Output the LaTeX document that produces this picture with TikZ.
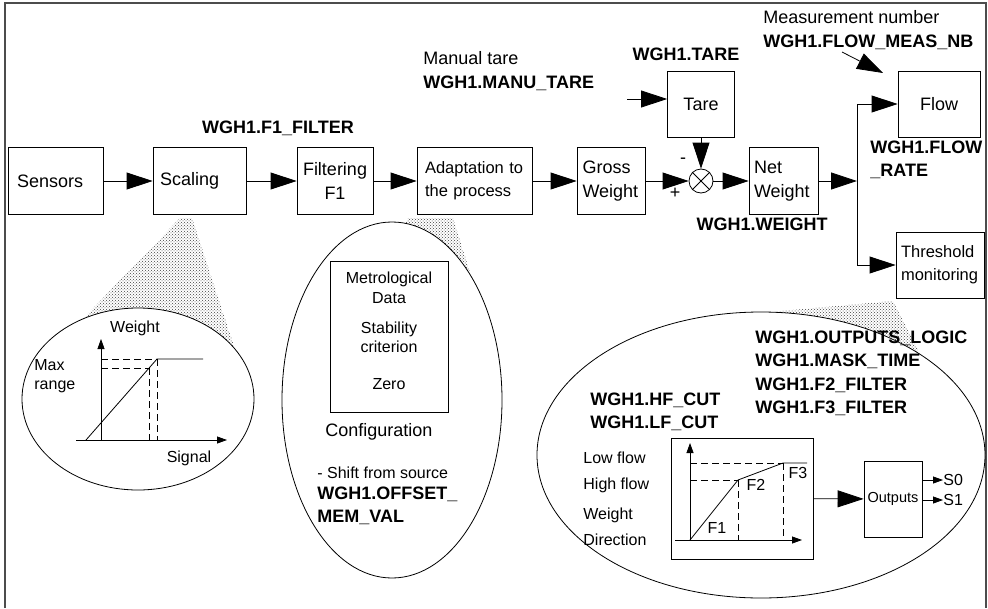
\documentclass[tikz,border=0pt]{standalone}
\usepackage{fontspec}
\setmainfont{Liberation Sans}
\usepackage{tikz}
\usetikzlibrary{arrows.meta,patterns}
\tikzstyle{arrow} = [draw, -{Triangle[length=26pt,width=17pt]}, thick]
\tikzstyle{tinyArrow} = [draw, -{Triangle[length=10pt,width=7pt]}, thick]
\tikzstyle{line} = [draw, thick]
\tikzstyle{dashLine} = [draw, thick, dash pattern=on 7pt off 4pt]
\tikzstyle{block} = [draw, rectangle, thick, minimum height=67pt, inner xsep=6pt,
    align=left, font=\fontsize{18}{23.5}\selectfont]
\tikzstyle{plainBlock} = [draw, rectangle, thick]
\tikzstyle{sumBlock} = [draw, circle, thick, minimum size=24pt, inner sep=0pt]
\tikzstyle{zoomArea} = [draw, thick, fill=white]
\tikzstyle{zoomShade} = [pattern=crosshatch dots, pattern color=black!75]
\tikzstyle{varLabel} = [font=\bfseries\fontsize{18}{23.5}\selectfont, align=left, inner sep=0pt]
\tikzstyle{textLabel} = [font=\fontsize{18}{23.5}\selectfont, align=left, inner sep=0pt]
\tikzstyle{smallLabel} = [font=\fontsize{16}{19.5}\selectfont, align=left, inner sep=0pt]

\begin{document}
\begin{tikzpicture}[x=1pt, y=1pt, node distance=144pt, auto, thick]
      \useasboundingbox (0,0) rectangle (988,-608);
      % frame
      \path [draw, line width=1.3pt, black!70] (5,-608) -- (5,-3) -- (986,-3) -- (986,-608);

      % Place nodes
      \node [block, text width=77pt, inner xsep=9pt] (sensors) at (55.5,-181) {Sensors};
      \node [block, text width=79pt, inner xsep=7pt, right of=sensors] (scaling) {Scaling};
      \node [block, text width=64pt, align=center, right of=scaling, node distance=135.5pt] (filter) {Filtering\\F1};
      \node [block, text width=99pt, inner xsep=8pt, font=\fontsize{16.5}{23}\selectfont,
          right of=filter, node distance=139.5pt] (adapt) {Adaptation to\\the process};
      \node [block, text width=57pt, inner xsep=5.5pt, right of=adapt, node distance=136.5pt] (gross) {Gross\\Weight};
      \node [sumBlock, right of=gross, node distance=90pt] (sum) {};
      \node [block, text width=59pt, inner xsep=5pt, right of=sum, node distance=82.5pt] (net) {Net\\Weight};
      \node [block, text width=55pt, align=center, minimum height=66pt, above of=sum, node distance=77pt] (tare) {Tare};
      \node [block, text width=70pt, align=center, minimum height=66pt, right of=net, node distance=155.5pt, yshift=77pt] (flow) {Flow};
      \node [block, text width=78pt, inner xsep=5pt, minimum height=66pt, font=\fontsize{16.5}{23}\selectfont,
          right of=net, node distance=156.5pt, yshift=-84pt] (threshold) {Threshold\\monitoring};

      \coordinate (branch) at (857,-181);
      \coordinate (tareIn) at (627,-99);
      \coordinate (measFrom) at (842,-52);
      \coordinate (measTo) at (883,-73);

      \path [arrow] (sensors) -- (scaling);
      \path [arrow] (scaling) -- (filter);
      \path [arrow] (filter) -- (adapt);
      \path [arrow] (adapt) -- (gross);
      \path [arrow] (gross) -- (sum);
      \path [arrow] (tare) -- (sum);
      \path [arrow] (sum) -- (net);
      \path [line] (sum.45) -- (sum.225) (sum.135) -- (sum.315);
      \path [arrow] (net) -- (branch);
      \path [arrow] (branch) |- (flow);
      \path [arrow] (branch) |- (threshold);
      \path [arrow] (tareIn) -- (tareIn -| tare.west);
      \path [arrow] (measFrom) -- (measTo);

      % variable names
      \node [varLabel, anchor=north] (f1Var) at (278,-120.5) {WGH1.F1\_FILTER};
      \node [textLabel, anchor=north west] (manuVar) at (423,-51.5) {Manual tare\\\textbf{WGH1.MANU\_TARE}};
      \node [varLabel, anchor=north] (tareVar) at (686,-47.5) {WGH1.TARE};
      \node [textLabel, anchor=north west] (measVar) at (763,-10.5) {Measurement number\\\textbf{WGH1.FLOW\_MEAS\_NB}};
      \node [varLabel, anchor=north west] (rateVar) at (870,-140.5) {WGH1.FLOW\\\_RATE};
      \node [varLabel, anchor=north] (weightVar) at (762,-217.5) {WGH1.WEIGHT};
      \node [textLabel] (minus) at (683,-161) {-};
      \node [textLabel] (plus) at (675,-193) {+};

      % zoomed details
      \path [zoomShade] (180,-218) -- (192,-218) -- (236,-352) -- (138,-380) -- (80,-322) -- cycle;
      \path [zoomShade] (408,-218) -- (453,-218) -- (473,-282) -- (391,-260) -- cycle;
      \path [zoomShade] (770,-312) -- (893,-301) -- (919,-352) -- (800,-330) -- cycle;
      \path [zoomArea] (138,-399) ellipse [x radius=116, y radius=91];
      \path [zoomArea] (392,-400) ellipse [x radius=110, y radius=178];
      \path [zoomArea] (761,-455) ellipse [x radius=224, y radius=143];

      % scaling curve
      \path [tinyArrow] (76,-440) -- (227,-440);
      \path [tinyArrow] (101,-440) -- (101,-339);
      \path [line] (86,-440) -- (157,-359) -- (203,-359);
      \path [dashLine] (101,-359) -- (157,-359) (101,-368) -- (149,-368);
      \path [dashLine] (149,-368) -- (149,-440) (157,-359) -- (157,-440);
      \node [smallLabel, anchor=north] (weightAxis) at (135,-321) {Weight};
      \node [smallLabel, anchor=north west] (maxRange) at (34,-359) {Max\\range};
      \node [smallLabel, anchor=north] (signalAxis) at (189,-450) {Signal};

      % configuration
      \node [plainBlock, minimum width=118pt, minimum height=151pt] (metro) at (389,-336.5) {};
      \node [smallLabel, align=center] (metroText) at (389,-331)
          {Metrological\\Data\\[10.5pt]Stability\\criterion\\[17.5pt]Zero};
      \node [textLabel, anchor=north west] (config) at (325,-423.5) {Configuration};
      \node [smallLabel, anchor=north west] (shift) at (317,-466) {- Shift from source};
      \node [varLabel, anchor=north west] (offsetVar) at (317,-486.5) {WGH1.OFFSET\_\\MEM\_VAL};

      % flow thresholds
      \node [varLabel, anchor=north west] (logicVar) at (755,-330.5)
          {WGH1.OUTPUTS\_LOGIC\\WGH1.MASK\_TIME\\WGH1.F2\_FILTER\\WGH1.F3\_FILTER};
      \node [varLabel, anchor=north west] (cutVar) at (590,-392.5) {WGH1.HF\_CUT\\WGH1.LF\_CUT};
      \node [smallLabel, anchor=north west] (lowFlow) at (583,-451) {Low flow};
      \node [smallLabel, anchor=north west] (highFlow) at (583,-477) {High flow};
      \node [smallLabel, anchor=north west] (weightDir) at (583,-507) {Weight};
      \node [smallLabel, anchor=north west] (direction) at (583,-533) {Direction};
      \node [plainBlock, minimum width=142pt, minimum height=121pt] (flowPlot) at (742,-498.5) {};
      \path [tinyArrow] (675,-540) -- (802,-540);
      \path [tinyArrow] (690,-540) -- (690,-443);
      \path [line] (690,-540) -- (738,-480) -- (783,-463) -- (807,-463);
      \path [dashLine] (690,-463) -- (783,-463) (690,-480) -- (738,-480);
      \path [dashLine] (738,-480) -- (738,-540) (783,-463) -- (783,-540);
      \node [smallLabel, anchor=north] (f1) at (717,-522) {F1};
      \node [smallLabel, anchor=north] (f2) at (756,-479) {F2};
      \node [smallLabel, anchor=north] (f3) at (798,-467) {F3};
      \node [plainBlock, minimum width=58pt, minimum height=76pt, inner sep=2pt,
          font=\fontsize{14.5}{17}\selectfont] (outputs) at (893,-499) {Outputs};
      \node [smallLabel, anchor=west] (s0) at (943,-480) {S0};
      \node [smallLabel, anchor=west] (s1) at (943,-500) {S1};
      \path [arrow] (flowPlot) -- (outputs);
      \path [tinyArrow] (outputs.east |- s0) -- (s0);
      \path [tinyArrow] (outputs.east |- s1) -- (s1);

  \end{tikzpicture}
\end{document}
